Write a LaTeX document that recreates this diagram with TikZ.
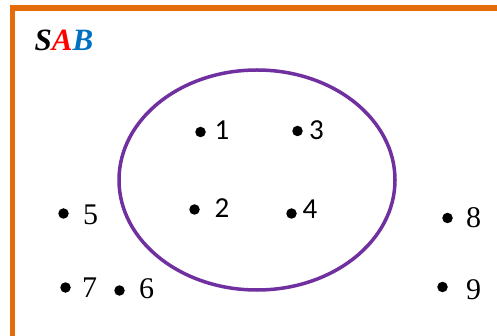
\documentclass[tikz,border=0pt]{standalone}
\usepackage{fontspec}
\setmainfont{Liberation Serif}
\newfontfamily\calib{Carlito}
\definecolor{frameorange}{RGB}{228,108,10}
\definecolor{setpurple}{RGB}{112,48,160}
\definecolor{wordblue}{RGB}{0,112,192}
\begin{document}
\begin{tikzpicture}[
  x=1pt, y=-1pt,
  dot/.style={circle,fill=black,inner sep=0pt,minimum size=10.5pt},
  inlbl/.style={inner sep=0pt,font=\calib\fontsize{29}{30}\selectfont},
  outlbl/.style={inner sep=0pt,font=\fontsize{30}{32}\selectfont}
]
\useasboundingbox (0,0) rectangle (497,336);

% ---- Frame of S ----
\draw[frameorange, line width=5.5pt] (12.5,8) rectangle (520,339);
\node[inner sep=0pt,font=\bfseries\itshape\fontsize{31}{32}\selectfont] (title) at (64,40)
  {S\textcolor{red}{A}\textcolor{wordblue}{B}};

% ---- Set A (ellipse) ----
\draw[setpurple, line width=3.5pt] (257,180) ellipse (138 and 110);

% Points inside
\node[dot] (p1) at (200.5,132) {};
\node[inlbl] (l1) at (222,130) {1};
\node[dot] (p3) at (297.5,131) {};
\node[inlbl] (l3) at (316.5,130) {3};
\node[dot] (p2) at (194.5,209.5) {};
\node[inlbl] (l2) at (222,208.5) {2};
\node[dot] (p4) at (291.5,213.5) {};
\node[inlbl] (l4) at (310,209.5) {4};

% ---- Points outside ----
\node[dot] (p5) at (63.5,213.5) {};
\node[outlbl] (l5) at (90.5,214.5) {5};
\node[dot] (p7) at (65.5,287.5) {};
\node[outlbl] (l7) at (89.5,288) {7};
\node[dot] (p6) at (119.5,290.5) {};
\node[outlbl] (l6) at (146.5,288.5) {6};
\node[dot] (p8) at (447.5,218) {};
\node[outlbl] (l8) at (473.5,218) {8};
\node[dot] (p9) at (442.5,287) {};
\node[outlbl] (l9) at (473.5,289.5) {9};
\end{tikzpicture}
\end{document}
